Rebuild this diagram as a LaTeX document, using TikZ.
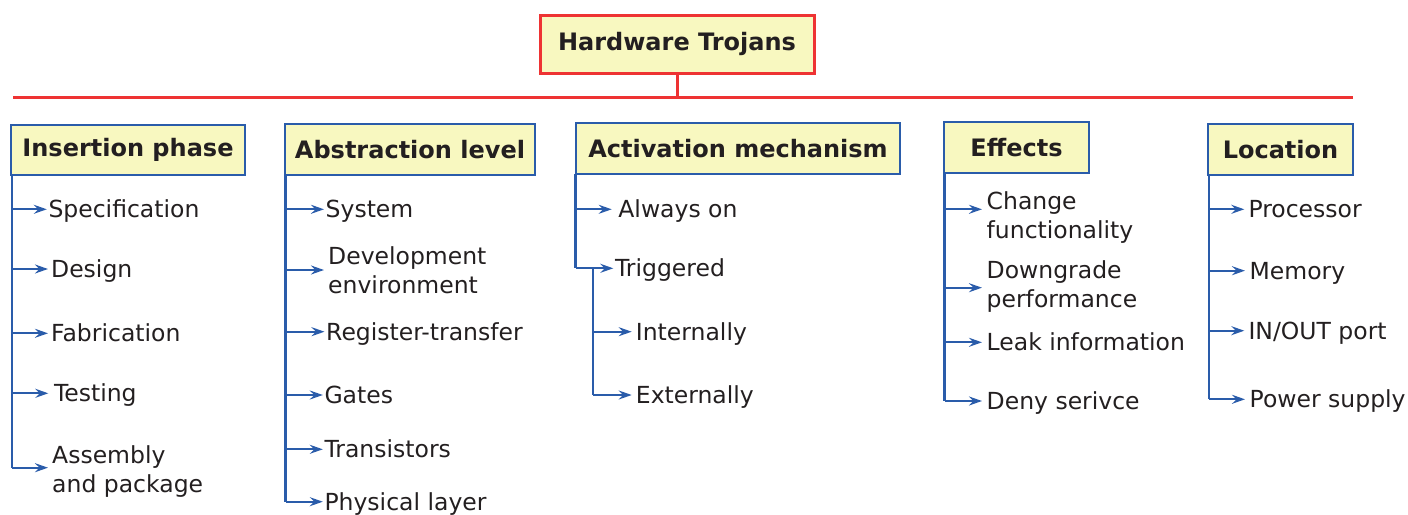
\documentclass[tikz,border=0pt]{standalone}
\usepackage{fontspec}
\setmainfont{DejaVu Sans}
\usetikzlibrary{arrows.meta}
\definecolor{boxfill}{HTML}{F8F8C0}
\definecolor{redline}{HTML}{EE3333}
\definecolor{blueline}{HTML}{2A5CAA}
\definecolor{txt}{HTML}{231F20}
\newcommand{\itemfont}{\fontsize{23.5}{29.5}\selectfont}
\newcommand{\headfont}{\fontsize{24}{29.5}\selectfont\bfseries}
\newcommand{\twoline}[2]{\begin{tabular}[t]{@{}l@{}}#1\\#2\end{tabular}}
\tikzset{
  rootbox/.style={draw=redline, line width=3pt, fill=boxfill, inner sep=0pt, font=\headfont, text=txt},
  catbox/.style={draw=blueline, line width=2pt, fill=boxfill, inner sep=0pt, font=\headfont, text=txt},
  item/.style={anchor=base west, inner ysep=0pt, inner xsep=1.5pt, font=\itemfont, text=txt},
  trunk/.style={draw=blueline, line width=2.2pt},
  arr/.style={draw=blueline, line width=2pt, -{Stealth[length=13pt,width=9pt,inset=4.5pt]}},
  redl/.style={draw=redline, line width=3pt}
}
\begin{document}
\begin{tikzpicture}[x=1pt,y=-1pt]
\useasboundingbox (0,0) rectangle (1408,514);
% root
\node[rootbox, minimum width=274pt, minimum height=58pt] (root) at (677,44) {Hardware Trojans};
\coordinate (rj) at (677,97.5);
\coordinate (rl) at (13,97.5);
\coordinate (rr) at (1353,97.5);
\draw[redl] (root.south) -- (rj);
\draw[redl] (rl) -- (rr);
% categories
\node[catbox, minimum width=234pt, minimum height=50pt] (ins) at (128,150) {Insertion phase};
\node[catbox, minimum width=250pt, minimum height=51pt] (abs) at (410,149.5) {Abstraction level};
\node[catbox, minimum width=324pt, minimum height=51pt] (act) at (738,148.5) {Activation mechanism};
\node[catbox, minimum width=145pt, minimum height=51pt] (eff) at (1016.5,147.5) {Effects};
\node[catbox, minimum width=145pt, minimum height=51pt] (loc) at (1280.5,149.5) {Location};

% ---------- Insertion phase ----------
\coordinate (i0) at (12,175);
\coordinate (i1) at (12,209.3);
\coordinate (i2) at (12,269);
\coordinate (i3) at (12,333.3);
\coordinate (i4) at (12,393.3);
\coordinate (i5) at (12,467.7);
\draw[trunk] (i0) -- (i5);
\node[item] (spec) at (46.8,217.8) {Specification};
\node[item, inner xsep=3pt] (design) at (48,277.5) {Design};
\node[item, inner xsep=3pt] (fab) at (48,341.8) {Fabrication};
\node[item, inner xsep=5.5pt] (test) at (48.3,401.8) {Testing};
\node[item, inner xsep=4pt] (asm) at (48,463) {\twoline{Assembly}{and package}};
\draw[arr] (i1) -- (i1 -| spec.west);
\draw[arr] (i2) -- (i2 -| design.west);
\draw[arr] (i3) -- (i3 -| fab.west);
\draw[arr] (i4) -- (i4 -| test.west);
\draw[arr] (i5) -- (i5 -| asm.west);

% ---------- Abstraction level ----------
\coordinate (a0) at (285.5,175);
\coordinate (a1) at (285.5,209.3);
\coordinate (a2) at (285.5,270);
\coordinate (a3) at (285.5,331.7);
\coordinate (a4) at (285.5,395);
\coordinate (a5) at (285.5,449.3);
\coordinate (a6) at (285.5,501.7);
\draw[trunk] (a0) -- (a6);
\node[item] (sys) at (324,217.8) {System};
\node[item, inner xsep=4pt] (dev) at (324,264.3) {\twoline{Development}{environment}};
\node[item] (rtl) at (324.5,340.2) {Register-transfer};
\node[item] (gates) at (322.8,403.5) {Gates};
\node[item] (trans) at (322.8,457.8) {Transistors};
\node[item] (phys) at (322.8,510.2) {Physical layer};
\draw[arr] (a1) -- (a1 -| sys.west);
\draw[arr] (a2) -- (a2 -| dev.west);
\draw[arr] (a3) -- (a3 -| rtl.west);
\draw[arr] (a4) -- (a4 -| gates.west);
\draw[arr] (a5) -- (a5 -| trans.west);
\draw[arr] (a6) -- (a6 -| phys.west);

% ---------- Activation mechanism ----------
\coordinate (c0) at (575.5,174);
\coordinate (c1) at (575.5,209.3);
\coordinate (c2) at (575.5,268.3);
\coordinate (s0) at (592.7,268.3);
\coordinate (s1) at (592.7,331.7);
\coordinate (s2) at (592.7,395);
\draw[trunk] (c0) -- (c2);
\draw[trunk] (s0) -- (s2);
\node[item, inner xsep=6.5pt] (always) at (611.7,217.8) {Always on};
\node[item, inner xsep=1.5pt] (trig) at (613.3,276.8) {Triggered};
\node[item, inner xsep=4pt] (intl) at (631.7,340.2) {Internally};
\node[item, inner xsep=4pt] (extl) at (631.7,403.5) {Externally};
\draw[arr] (c1) -- (c1 -| always.west);
\draw[arr] (c2) -- (c2 -| trig.west);
\draw[arr] (s1) -- (s1 -| intl.west);
\draw[arr] (s2) -- (s2 -| extl.west);

% ---------- Effects ----------
\coordinate (e0) at (944.5,173);
\coordinate (e1) at (944.5,209.3);
\coordinate (e2) at (944.5,287.7);
\coordinate (e3) at (944.5,342.3);
\coordinate (e4) at (944.5,401);
\draw[trunk] (e0) -- (e4);
\node[item, inner xsep=4.5pt] (chg) at (982,209.3) {\twoline{Change}{functionality}};
\node[item, inner xsep=4.5pt] (down) at (982,278.3) {\twoline{Downgrade}{performance}};
\node[item, inner xsep=4.5pt] (leak) at (982,350.8) {Leak information};
\node[item, inner xsep=4.5pt] (deny) at (982,409.5) {Deny serivce};
\draw[arr] (e1) -- (e1 -| chg.west);
\draw[arr] (e2) -- (e2 -| down.west);
\draw[arr] (e3) -- (e3 -| leak.west);
\draw[arr] (e4) -- (e4 -| deny.west);

% ---------- Location ----------
\coordinate (l0) at (1209,175);
\coordinate (l1) at (1209,209.3);
\coordinate (l2) at (1209,270.7);
\coordinate (l3) at (1209,330.7);
\coordinate (l4) at (1209,399.3);
\draw[trunk] (l0) -- (l4);
\node[item, inner xsep=4pt] (proc) at (1244.3,217.8) {Processor};
\node[item, inner xsep=4.5pt] (mem) at (1245,279.2) {Memory};
\node[item, inner xsep=4pt] (io) at (1244.3,339.2) {IN/OUT port};
\node[item, inner xsep=4.5pt] (pwr) at (1245,407.8) {Power supply};
\draw[arr] (l1) -- (l1 -| proc.west);
\draw[arr] (l2) -- (l2 -| mem.west);
\draw[arr] (l3) -- (l3 -| io.west);
\draw[arr] (l4) -- (l4 -| pwr.west);
\end{tikzpicture}
\end{document}
